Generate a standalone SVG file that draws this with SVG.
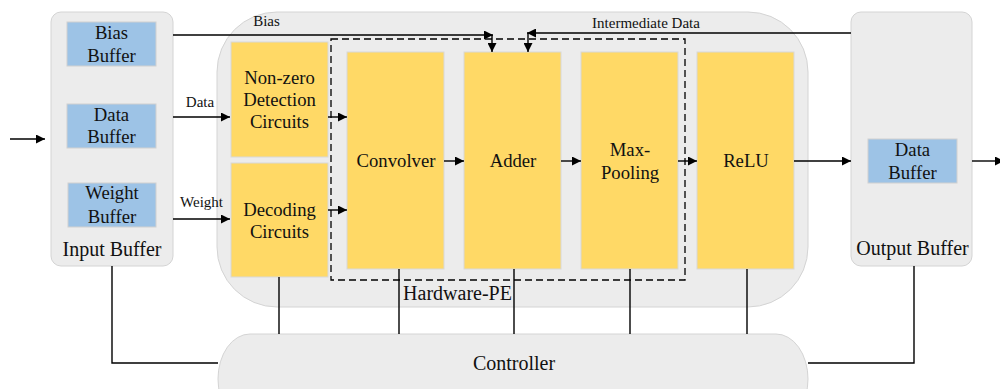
<svg xmlns="http://www.w3.org/2000/svg" width="1000" height="389" viewBox="0 0 1000 389">
<defs>
<marker id="ah" viewBox="0 0 10 10" refX="10" refY="5" markerWidth="9" markerHeight="9" markerUnits="userSpaceOnUse" orient="auto">
<path d="M0,0 L10,5 L0,10 z" fill="#000"/>
</marker>
<style>
.cont{fill:#ececec;stroke:#d4d4d4;stroke-width:1}
.blue{fill:#9dc3e6;stroke:#d0d0d0;stroke-width:1}
.yel{fill:#ffd966;stroke:#d8d8d8;stroke-width:1}
text{font-family:'Liberation Serif','Times New Roman',serif;fill:#111;text-anchor:middle}
.t{font-size:18.7px}
.b{font-size:20px}
.s{font-size:15px}
.ln{fill:none;stroke:#000;stroke-width:1.4}
.ar{fill:none;stroke:#000;stroke-width:1.4;marker-end:url(#ah)}
</style>
</defs>
<rect width="1000" height="389" fill="#fff"/>

<g id="hardware-pe">
<rect class="cont" x="217" y="12" width="591" height="295" rx="60" ry="60"/>
<text class="b" x="457.5" y="300">Hardware-PE</text>
</g>

<g id="controller">
<rect class="cont" x="218" y="334" width="590" height="90" rx="32" ry="45"/>
<text class="b" x="514" y="370">Controller</text>
</g>

<g id="input-buffer">
<rect class="cont" x="51" y="12" width="122" height="254" rx="10"/>
<text class="b" x="112" y="256">Input Buffer</text>
</g>
<g id="bias-buffer">
<rect class="blue" x="67" y="22" width="89" height="44"/>
<text class="t" x="111.5" y="39">Bias</text>
<text class="t" x="111.5" y="62">Buffer</text>
</g>
<g id="data-buffer">
<rect class="blue" x="67" y="104" width="89" height="44"/>
<text class="t" x="111.5" y="121">Data</text>
<text class="t" x="111.5" y="143">Buffer</text>
</g>
<g id="weight-buffer">
<rect class="blue" x="68" y="183" width="88" height="44"/>
<text class="t" x="112" y="199">Weight</text>
<text class="t" x="112" y="223">Buffer</text>
</g>

<g id="nonzero">
<rect class="yel" x="231" y="42" width="97" height="115"/>
<text class="t" x="279.5" y="84">Non-zero</text>
<text class="t" x="279.5" y="106">Detection</text>
<text class="t" x="279.5" y="128">Circuits</text>
</g>
<g id="decoding">
<rect class="yel" x="231" y="163" width="97" height="114"/>
<text class="t" x="279.5" y="216">Decoding</text>
<text class="t" x="279.5" y="238">Circuits</text>
</g>

<g id="pe-dashed">
<rect x="331" y="39" width="354" height="241" fill="none" stroke="#000" stroke-width="1.3" stroke-dasharray="7,4"/>
</g>

<g id="convolver">
<rect class="yel" x="347" y="52" width="97" height="217"/>
<text class="t" x="396" y="167">Convolver</text>
</g>
<g id="adder">
<rect class="yel" x="464" y="52" width="97" height="217"/>
<text class="t" x="513" y="167">Adder</text>
</g>
<g id="maxpooling">
<rect class="yel" x="581" y="52" width="97" height="217"/>
<text class="t" x="630" y="156">Max-</text>
<text class="t" x="630" y="179">Pooling</text>
</g>
<g id="relu">
<rect class="yel" x="697" y="52" width="97" height="217"/>
<text class="t" x="746" y="167">ReLU</text>
</g>

<g id="output-buffer">
<rect class="cont" x="851" y="12" width="121" height="254" rx="10"/>
<text class="b" x="912.5" y="255">Output Buffer</text>
</g>
<g id="out-data-buffer">
<rect class="blue" x="868" y="139" width="89" height="44"/>
<text class="t" x="912.5" y="156">Data</text>
<text class="t" x="912.5" y="179">Buffer</text>
</g>

<g id="connectors">
<line class="ar" x1="10" y1="139" x2="45" y2="139"/>
<line class="ar" x1="173" y1="117" x2="230" y2="117"/>
<line class="ar" x1="173" y1="219" x2="230" y2="219"/>
<line class="ar" x1="328" y1="117" x2="347" y2="117"/>
<line class="ar" x1="328" y1="210" x2="347" y2="210"/>
<line class="ar" x1="444" y1="161" x2="464" y2="161"/>
<line class="ar" x1="561" y1="161" x2="581" y2="161"/>
<line class="ar" x1="678" y1="161" x2="697" y2="161"/>
<line class="ar" x1="794" y1="161" x2="851" y2="161"/>
<line class="ar" x1="972" y1="161" x2="1004" y2="161"/>
<line class="ar" x1="173" y1="35" x2="493" y2="35"/>
<line class="ar" x1="492" y1="35" x2="492" y2="52"/>
<line class="ar" x1="851" y1="33" x2="527" y2="33"/>
<line class="ar" x1="528" y1="33" x2="528" y2="52"/>
<polyline class="ln" points="112,266 112,363 218,363"/>
<polyline class="ln" points="914,266 914,363 808,363"/>
<line class="ln" x1="279" y1="277" x2="279" y2="334"/>
<line class="ln" x1="399" y1="269" x2="399" y2="334"/>
<line class="ln" x1="514" y1="269" x2="514" y2="334"/>
<line class="ln" x1="630" y1="269" x2="630" y2="334"/>
<line class="ln" x1="747" y1="269" x2="747" y2="334"/>
<text class="s" x="266.5" y="26">Bias</text>
<text class="s" x="646" y="28">Intermediate Data</text>
<text class="s" x="200" y="107">Data</text>
<text class="s" x="201.5" y="207">Weight</text>
</g>
</svg>
